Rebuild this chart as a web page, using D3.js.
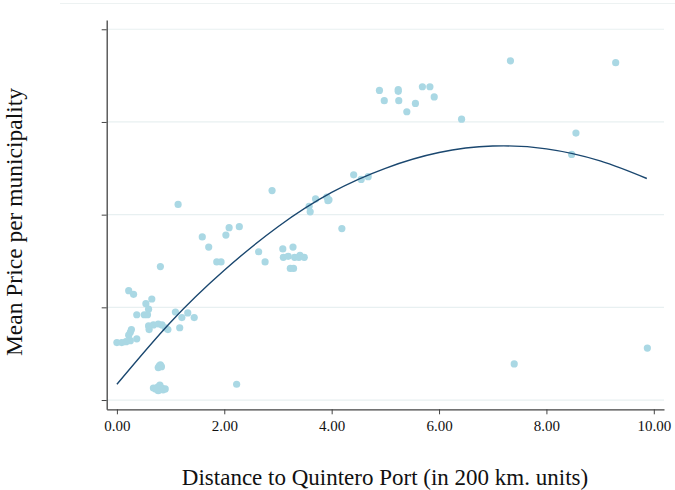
<!DOCTYPE html>
<html>
<head>
<meta charset="utf-8">
<script src="https://cdn.jsdelivr.net/npm/d3@7"></script>
<style>
    body { margin: 0; background: white; }
    text { font-family: "Liberation Serif", "DejaVu Serif", serif; fill: #111; }
</style>
</head>
<body>
<svg id="chart" width="675" height="490"></svg>
<script>
// distance to port (200 km units)
let distX = [
    4.89, 4.98, 5.24, 5.24, 5.25, 5.40, 5.56, 5.69, 5.83, 5.91,
    6.42, 7.33, 9.29, 8.55, 8.47, 7.40, 9.88, 4.41, 4.55, 4.68,
    2.89, 3.70, 3.91, 3.95, 3.93, 3.58, 3.60, 4.19, 1.14, 1.59,
    1.71, 2.03, 2.09, 2.28, 1.86, 1.94, 2.64, 2.76, 3.09, 3.28,
    3.10, 3.19, 3.31, 3.39, 3.41, 3.49, 3.23, 3.29, 2.23, 0.81,
    0.22, 0.31, 0.54, 0.65, 0.59, 0.37, 0.51, 0.57, 1.09, 1.21,
    1.32, 1.44, 1.17, 0.59, 0.68, 0.77, 0.84, 0.90, 0.95, 0.60,
    0.27, 0.25, 0.22, 0.00, 0.09, 0.17, 0.25, 0.37, 0.81, 0.77,
    0.68, 0.76, 0.84, 0.90, 0.77, 0.72, 0.86, 0.80, 0.79, 0.83
];
// mean price per municipality (axis units, no labels on the original)
let priceY = [
    3.34, 3.23, 3.35, 3.33, 3.23, 3.11, 3.20, 3.38, 3.38, 3.27,
    3.03, 3.66, 3.64, 2.88, 2.65, 0.39, 0.56, 2.43, 2.38, 2.41,
    2.26, 2.17, 2.19, 2.16, 2.15, 2.09, 2.03, 1.85, 2.11, 1.76,
    1.65, 1.78, 1.86, 1.87, 1.49, 1.49, 1.60, 1.49, 1.63, 1.65,
    1.54, 1.55, 1.54, 1.54, 1.56, 1.54, 1.42, 1.42, 0.17, 1.44,
    1.18, 1.14, 1.04, 1.09, 0.98, 0.92, 0.92, 0.92, 0.95, 0.89,
    0.94, 0.89, 0.78, 0.80, 0.81, 0.82, 0.81, 0.78, 0.76, 0.76,
    0.76, 0.73, 0.70, 0.62, 0.62, 0.63, 0.64, 0.66, 0.38, 0.35,
    0.13, 0.14, 0.13, 0.12, 0.10, 0.12, 0.11, 0.16, 0.37, 0.36
];

// quadratic fit line
let fitX = [0, 1, 2, 3, 4, 5, 6, 7, 8, 9, 9.87];
let fitY = [0.17, 0.84, 1.40, 1.87, 2.24, 2.50, 2.67, 2.74, 2.71, 2.58, 2.39];

let xTicks = [0, 2, 4, 6, 8, 10];
let yTicks = [0, 1, 2, 3, 4];

let svg = d3.select("#chart");

// outer frame line at the top
svg.append("line")
    .attr("x1", 60).attr("x2", 675)
    .attr("y1", 3.5).attr("y2", 3.5)
    .style("stroke", "#edf2f2")
    .style("stroke-width", 1);

let x = d3.scaleLinear().domain([-0.19, 10.19]).range([106.7, 664]);
let y = d3.scaleLinear().domain([-0.1, 4.1]).range([409.3, 20]);

// gridlines
svg.append("g")
    .selectAll("line")
    .data(yTicks)
    .join("line")
    .attr("x1", 107).attr("x2", 664)
    .attr("y1", d => y(d)).attr("y2", d => y(d))
    .style("stroke", "#e8f0f1")
    .style("stroke-width", 1.2);

// points
let pts = distX.map((d, i) => ({ x: d, y: priceY[i] }));
svg.append("g")
    .selectAll("circle")
    .data(pts)
    .join("circle")
    .attr("cx", d => x(d.x))
    .attr("cy", d => y(d.y))
    .attr("r", 3.6)
    .style("fill", "#aad8e4");

// fitted line
let line = d3.line()
    .x(d => x(d[0]))
    .y(d => y(d[1]))
    .curve(d3.curveNatural);

svg.append("path")
    .datum(fitX.map((d, i) => [d, fitY[i]]))
    .attr("d", line)
    .style("fill", "none")
    .style("stroke", "#1a476f")
    .style("stroke-width", 1.4);

// axes
let xAxis = svg.append("g")
    .attr("transform", "translate(0,409.3)")
    .call(d3.axisBottom(x)
        .tickValues(xTicks)
        .tickFormat(d3.format(".2f"))
        .tickSize(5)
        .tickSizeOuter(0)
        .tickPadding(6));

let yAxis = svg.append("g")
    .attr("transform", "translate(106.7,0)")
    .call(d3.axisLeft(y)
        .tickValues(yTicks)
        .tickFormat("")
        .tickSize(5)
        .tickSizeOuter(0));

[xAxis, yAxis].forEach(function (ax) {
    ax.select(".domain").style("stroke", "#444").style("stroke-width", 1.3);
    ax.selectAll(".tick line").style("stroke", "#444").style("stroke-width", 1);
    ax.selectAll(".tick text")
        .style("font-family", "\"Liberation Serif\", \"DejaVu Serif\", serif")
        .style("font-size", "15px")
        .style("fill", "#111");
});

// axis titles
svg.append("text")
    .text("Distance to Quintero Port (in 200 km. units)")
    .attr("x", 385)
    .attr("y", 485)
    .style("font-size", "23px")
    .style("text-anchor", "middle");

svg.append("text")
    .text("Mean Price per municipality")
    .attr("transform", "translate(22,222) rotate(-90)")
    .style("font-size", "23.5px")
    .style("text-anchor", "middle");
</script>
</body>
</html>
